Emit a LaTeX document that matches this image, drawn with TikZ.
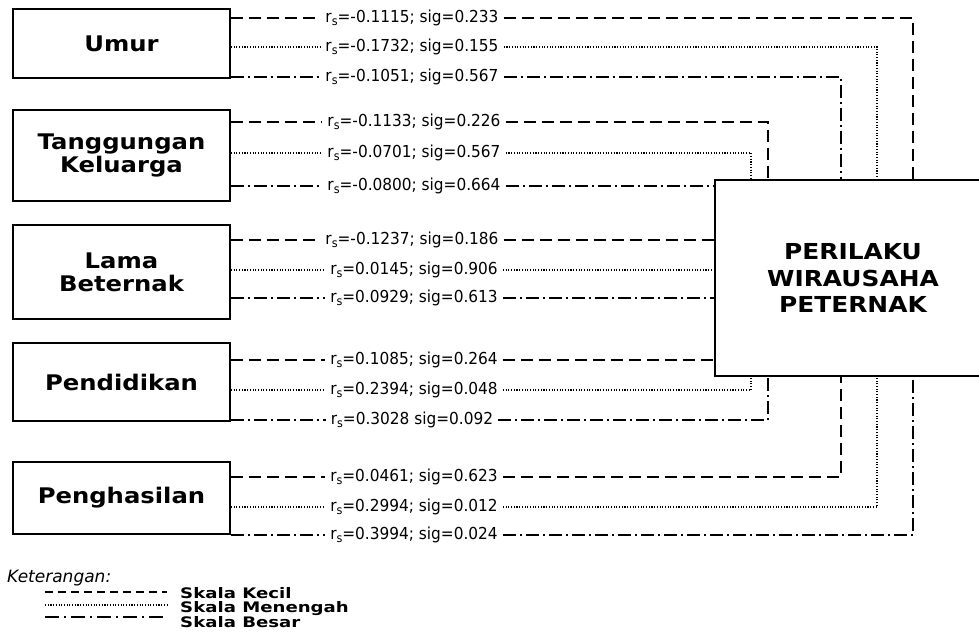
\documentclass[tikz,border=0pt]{standalone}
\usepackage{fontspec}
\setmainfont{DejaVu Sans}
\newfontfamily\bxfont{DejaVu Sans}[FakeStretch=1.13]
\newfontfamily\lgfont{DejaVu Sans}[FakeStretch=1.25]
\newfontfamily\labfont{DejaVu Sans}[FakeStretch=0.93]
\newcommand{\rsx}{r\raisebox{-0.18em}{\fontsize{12}{12}\selectfont s}}
\begin{document}
\begin{tikzpicture}[x=1pt,y=-1pt,
  box/.style={draw, line width=1.8pt, minimum width=217pt, align=center, inner sep=0pt,
    font=\bxfont\bfseries\fontsize{21.5}{23}\selectfont},
  lab/.style={font=\labfont\fontsize{16.5}{18}\selectfont, inner xsep=5pt, inner ysep=0pt},
  kecil/.style={line width=1.7pt, dash pattern=on 12pt off 6pt},
  menengah/.style={line width=1.4pt, dash pattern=on 1.1pt off 1.6pt},
  besar/.style={line width=1.7pt, dash pattern=on 13pt off 4pt on 2pt off 4pt},
  legtext/.style={anchor=base west, inner sep=0pt, font=\lgfont\bfseries\fontsize{14.5}{15}\selectfont},
]
\useasboundingbox (0,0) rectangle (979,644);
\clip (0,0) rectangle (979,644);

% left boxes
\node[box, minimum height=69pt] (U) at (121.5,43.5) {Umur};
\node[box, minimum height=91pt] (T) at (121.5,155.5) {Tanggungan\\Keluarga};
\node[box, minimum height=94pt] (L) at (121.5,272) {Lama\\Beternak};
\node[box, minimum height=78pt] (D) at (121.5,382) {Pendidikan};
\node[box, minimum height=72pt] (H) at (121.5,498) {Penghasilan};

% right box
\node[draw, line width=1.8pt, minimum width=276pt, minimum height=196pt, align=center, inner sep=0pt,
  font=\bxfont\bfseries\fontsize{22}{26.7}\selectfont] (P) at (853,278) {PERILAKU\\WIRAUSAHA\\PETERNAK};

% entry points on the right box
\coordinate (pa1) at ([xshift=199pt]P.north west);
\coordinate (pa2) at ([xshift=163pt]P.north west);
\coordinate (pa3) at ([xshift=127pt]P.north west);
\coordinate (pa4) at ([xshift=54pt]P.north west);
\coordinate (pa5) at ([xshift=37pt]P.north west);
\coordinate (pb1) at ([xshift=37pt]P.south west);
\coordinate (pb2) at ([xshift=54pt]P.south west);
\coordinate (pb3) at ([xshift=127pt]P.south west);
\coordinate (pb4) at ([xshift=163pt]P.south west);
\coordinate (pb5) at ([xshift=199pt]P.south west);

% labels
\node[lab] (U1) at (412,18) {\rsx=-0.1115; sig=0.233};
\node[lab] (U2) at (412,47) {\rsx=-0.1732; sig=0.155};
\node[lab] (U3) at (412,77) {\rsx=-0.1051; sig=0.567};
\node[lab] (T1) at (414,122) {\rsx=-0.1133; sig=0.226};
\node[lab] (T2) at (414,153) {\rsx=-0.0701; sig=0.567};
\node[lab] (T3) at (414,186) {\rsx=-0.0800; sig=0.664};
\node[lab] (L1) at (412,240) {\rsx=-0.1237; sig=0.186};
\node[lab] (L2) at (414,270) {\rsx=0.0145; sig=0.906};
\node[lab] (L3) at (414,298) {\rsx=0.0929; sig=0.613};
\node[lab] (D1) at (414,360) {\rsx=0.1085; sig=0.264};
\node[lab] (D2) at (414,390) {\rsx=0.2394; sig=0.048};
\node[lab] (D3) at (412,420) {\rsx=0.3028 sig=0.092};
\node[lab] (H1) at (414,477) {\rsx=0.0461; sig=0.623};
\node[lab] (H2) at (414,507) {\rsx=0.2994; sig=0.012};
\node[lab] (H3) at (414,535) {\rsx=0.3994; sig=0.024};

% Umur
\draw[kecil] (U.east |- U1) -- (U1.west);
\draw[kecil] (U1.east) -| (pa1);
\draw[menengah] (U.east |- U2) -- (U2.west);
\draw[menengah] (U2.east) -| (pa2);
\draw[besar] (U.east |- U3) -- (U3.west);
\draw[besar] (U3.east) -| (pa3);
% Tanggungan
\draw[kecil] (T.east |- T1) -- (T1.west);
\draw[kecil] (T1.east) -| (pa4);
\draw[menengah] (T.east |- T2) -- (T2.west);
\draw[menengah] (T2.east) -| (pa5);
\draw[besar] (T.east |- T3) -- (T3.west);
\draw[besar] (T3.east) -- (P.west |- T3);
% Lama
\draw[kecil] (L.east |- L1) -- (L1.west);
\draw[kecil] (L1.east) -- (P.west |- L1);
\draw[menengah] (L.east |- L2) -- (L2.west);
\draw[menengah] (L2.east) -- (P.west |- L2);
\draw[besar] (L.east |- L3) -- (L3.west);
\draw[besar] (L3.east) -- (P.west |- L3);
% Pendidikan
\draw[kecil] (D.east |- D1) -- (D1.west);
\draw[kecil] (D1.east) -- (P.west |- D1);
\draw[menengah] (D.east |- D2) -- (D2.west);
\draw[menengah] (D2.east) -| (pb1);
\draw[besar] (D.east |- D3) -- (D3.west);
\draw[besar] (D3.east) -| (pb2);
% Penghasilan
\draw[kecil] (H.east |- H1) -- (H1.west);
\draw[kecil] (H1.east) -| (pb3);
\draw[menengah] (H.east |- H2) -- (H2.west);
\draw[menengah] (H2.east) -| (pb4);
\draw[besar] (H.east |- H3) -- (H3.west);
\draw[besar] (H3.east) -| (pb5);

% legend
\node[anchor=base west, inner sep=0pt, font=\itshape\fontsize{17}{18}\selectfont] (ket) at (7,582) {Keterangan:};
\node[legtext] (lk) at (180,598) {Skala Kecil};
\node[legtext] (lm) at (180,612) {Skala Menengah};
\node[legtext] (lb) at (180,627) {Skala Besar};
\draw[line width=1.4pt, dash pattern=on 8pt off 5pt] (45,592) -- (167,592);
\draw[line width=1.2pt, dash pattern=on 1.1pt off 1.6pt] (45,605) -- (167,605);
\draw[line width=1.4pt, dash pattern=on 14pt off 5pt on 2pt off 5pt] (45,617) -- (167,617);
\end{tikzpicture}
\end{document}
